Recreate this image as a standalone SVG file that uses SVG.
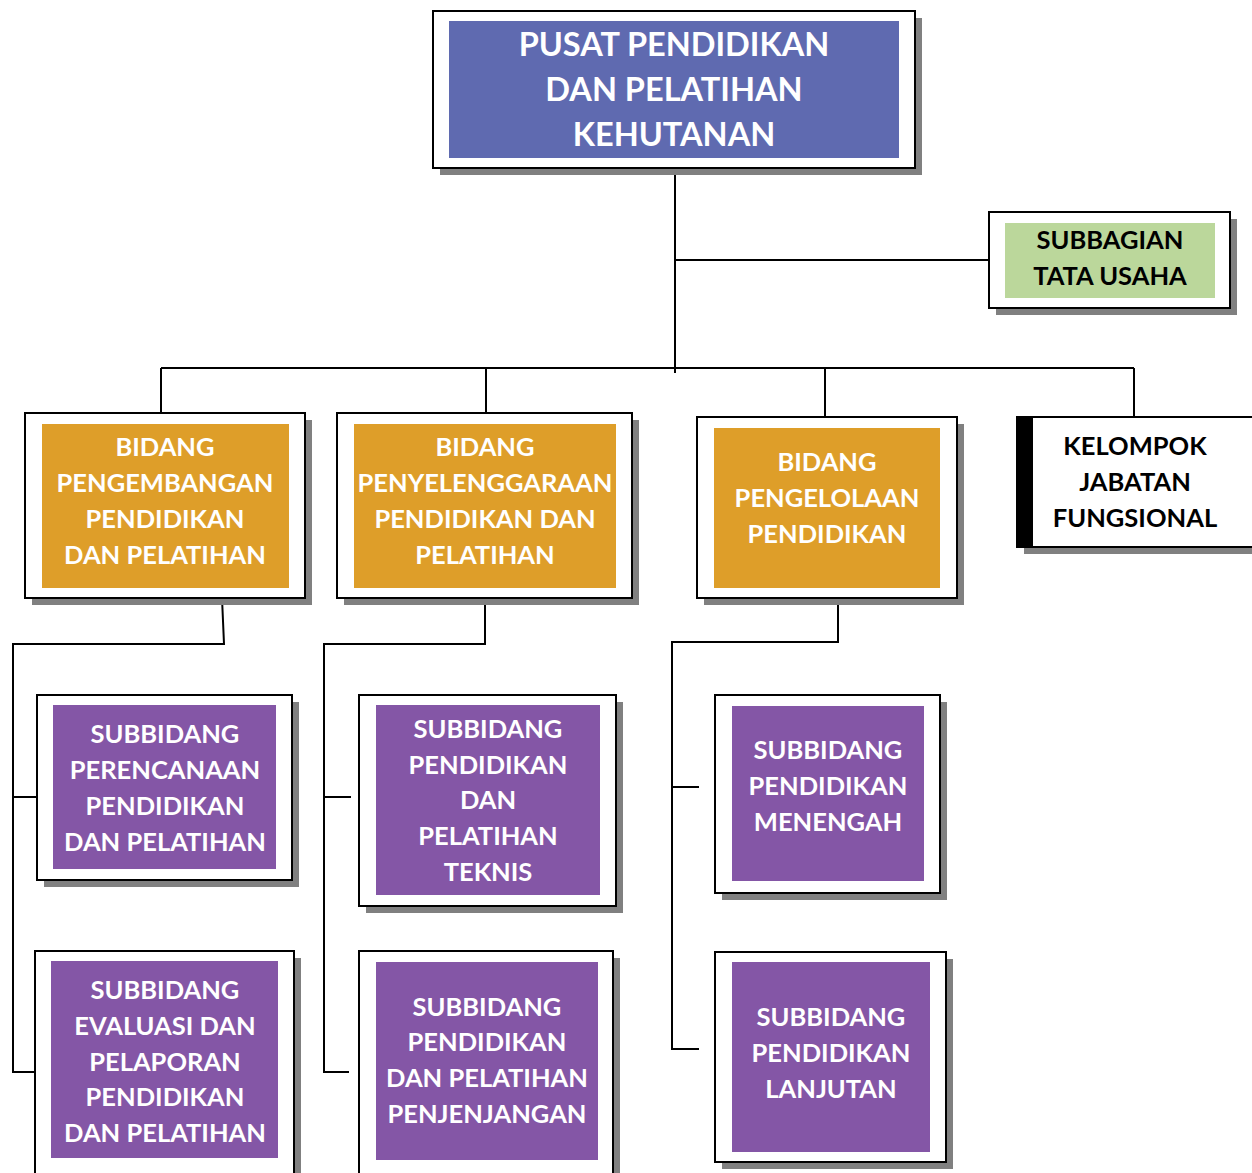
<svg xmlns="http://www.w3.org/2000/svg" width="1252" height="1173" viewBox="0 0 1252 1173">
<style>
.sh{fill:#808080}
.ob{fill:#fff;stroke:#000;stroke-width:2}
.blue{fill:#5F6AB0}
.orange{fill:#DE9E29}
.purple{fill:#8456A6}
.green{fill:#BBD79B}
text{font-family:Lato,"Noto Sans",sans-serif;font-weight:bold;text-anchor:middle;font-size:25.5px;fill:#fff}
.big{font-size:32.5px}
.dark{fill:#000}
.con{fill:none;stroke:#000;stroke-width:2}
</style>
<rect width="1252" height="1173" fill="#fff"/>
<g id="connectors">
<path class="con" d="M675 168 V373"/>
<path class="con" d="M675 260 H989"/>
<path class="con" d="M161 368 H1134"/>
<path class="con" d="M161 368 V413 M486 368 V413 M825 368 V417 M1134 368 V417"/>
<path class="con" d="M222 598 L224 644 H13 V1072 H35 M13 797 H37"/>
<path class="con" d="M485 598 V644 H324 V1072 H349 M324 797 H351"/>
<path class="con" d="M838 598 V642 H672 V1049 H699 M672 787 H699"/>
</g>
<g id="pusat">
<rect class="sh" x="440" y="18" width="482" height="157"/>
<rect class="ob" x="433" y="11" width="482" height="157"/>
<rect class="blue" x="449" y="21" width="450" height="137"/>
<text class="big" x="674" y="56">PUSAT PENDIDIKAN</text>
<text class="big" x="674" y="101">DAN PELATIHAN</text>
<text class="big" x="674" y="146">KEHUTANAN</text>
</g>
<g id="subbagian-tu">
<rect class="sh" x="996" y="219" width="241" height="96"/>
<rect class="ob" x="989" y="212" width="241" height="96"/>
<rect class="green" x="1005" y="223" width="210" height="75"/>
<text class="dark" x="1110" y="249">SUBBAGIAN</text>
<text class="dark" x="1110" y="285">TATA USAHA</text>
</g>
<g id="kelompok">
<rect class="sh" x="1024" y="424" width="245" height="130"/>
<rect class="ob" x="1017" y="417" width="245" height="130"/>
<rect fill="#000" x="1017" y="417" width="16" height="130"/>
<text class="dark" x="1135" y="455">KELOMPOK</text>
<text class="dark" x="1135" y="491">JABATAN</text>
<text class="dark" x="1135" y="527">FUNGSIONAL</text>
</g>
<g id="bidang-pengembangan">
<rect class="sh" x="32" y="420" width="280" height="185"/>
<rect class="ob" x="25" y="413" width="280" height="185"/>
<rect class="orange" x="42" y="424" width="247" height="164"/>
<text x="165" y="456">BIDANG</text>
<text x="165" y="492">PENGEMBANGAN</text>
<text x="165" y="528">PENDIDIKAN</text>
<text x="165" y="564">DAN PELATIHAN</text>
</g>
<g id="bidang-penyelenggaraan">
<rect class="sh" x="344" y="420" width="295" height="185"/>
<rect class="ob" x="337" y="413" width="295" height="185"/>
<rect class="orange" x="354" y="424" width="262" height="164"/>
<text x="485" y="456">BIDANG</text>
<text x="485" y="492">PENYELENGGARAAN</text>
<text x="485" y="528">PENDIDIKAN DAN</text>
<text x="485" y="564">PELATIHAN</text>
</g>
<g id="bidang-pengelolaan">
<rect class="sh" x="704" y="424" width="260" height="181"/>
<rect class="ob" x="697" y="417" width="260" height="181"/>
<rect class="orange" x="714" y="428" width="226" height="160"/>
<text x="827" y="471">BIDANG</text>
<text x="827" y="507">PENGELOLAAN</text>
<text x="827" y="543">PENDIDIKAN</text>
</g>
<g id="subbidang-perencanaan">
<rect class="sh" x="44" y="702" width="255" height="185"/>
<rect class="ob" x="37" y="695" width="255" height="185"/>
<rect class="purple" x="53" y="705" width="223" height="164"/>
<text x="165" y="743">SUBBIDANG</text>
<text x="165" y="779">PERENCANAAN</text>
<text x="165" y="815">PENDIDIKAN</text>
<text x="165" y="851">DAN PELATIHAN</text>
</g>
<g id="subbidang-evaluasi">
<rect class="sh" x="42" y="958" width="259" height="240"/>
<rect class="ob" x="35" y="951" width="259" height="240"/>
<rect class="purple" x="51" y="961" width="227" height="197"/>
<text x="165" y="999">SUBBIDANG</text>
<text x="165" y="1035">EVALUASI DAN</text>
<text x="165" y="1071">PELAPORAN</text>
<text x="165" y="1106">PENDIDIKAN</text>
<text x="165" y="1142">DAN PELATIHAN</text>
</g>
<g id="subbidang-teknis">
<rect class="sh" x="366" y="702" width="257" height="211"/>
<rect class="ob" x="359" y="695" width="257" height="211"/>
<rect class="purple" x="376" y="705" width="224" height="190"/>
<text x="488" y="738">SUBBIDANG</text>
<text x="488" y="774">PENDIDIKAN</text>
<text x="488" y="809">DAN</text>
<text x="488" y="845">PELATIHAN</text>
<text x="488" y="881">TEKNIS</text>
</g>
<g id="subbidang-penjenjangan">
<rect class="sh" x="366" y="958" width="254" height="240"/>
<rect class="ob" x="359" y="951" width="254" height="240"/>
<rect class="purple" x="376" y="962" width="222" height="198"/>
<text x="487" y="1016">SUBBIDANG</text>
<text x="487" y="1051">PENDIDIKAN</text>
<text x="487" y="1087">DAN PELATIHAN</text>
<text x="487" y="1123">PENJENJANGAN</text>
</g>
<g id="subbidang-menengah">
<rect class="sh" x="722" y="702" width="225" height="198"/>
<rect class="ob" x="715" y="695" width="225" height="198"/>
<rect class="purple" x="732" y="706" width="192" height="175"/>
<text x="828" y="759">SUBBIDANG</text>
<text x="828" y="795">PENDIDIKAN</text>
<text x="828" y="831">MENENGAH</text>
</g>
<g id="subbidang-lanjutan">
<rect class="sh" x="722" y="959" width="231" height="210"/>
<rect class="ob" x="715" y="952" width="231" height="210"/>
<rect class="purple" x="732" y="962" width="198" height="190"/>
<text x="831" y="1026">SUBBIDANG</text>
<text x="831" y="1062">PENDIDIKAN</text>
<text x="831" y="1098">LANJUTAN</text>
</g>
</svg>
